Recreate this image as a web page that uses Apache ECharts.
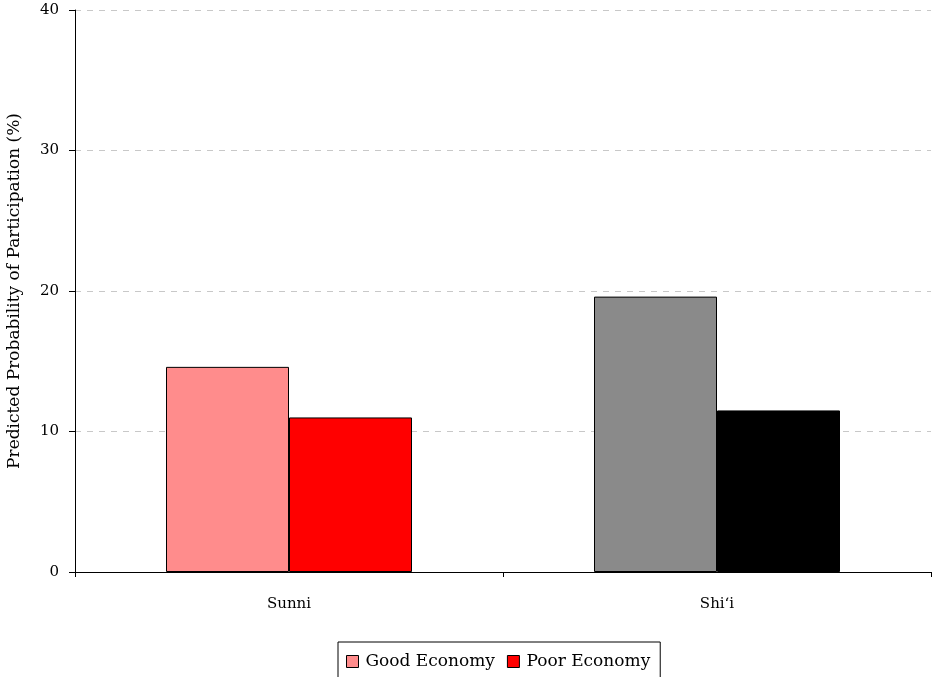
<!DOCTYPE html>
<html><head><meta charset="utf-8">
<script src="https://cdn.jsdelivr.net/npm/echarts@6/dist/echarts.min.js"></script>
<style>html,body{margin:0;padding:0;background:#fff}#c{width:932px;height:677px}</style>
</head><body><div id="c"></div>
<script>
const categories = ['Sunni', 'Shi\u2018i'];
const goodEconomy = [14.6, 19.6];
const poorEconomy = [11.0, 11.5];
const yTicks = [0, 10, 20, 30, 40];

const goodColors = ['#ff8c8c', '#8a8a8a'];
const poorColors = ['#ff0000', '#000000'];
const font = '"DejaVu Serif", "Liberation Serif", serif';

const chart = echarts.init(document.getElementById('c'));
chart.setOption({
  animation: false,
  textStyle: { fontFamily: font },
  grid: { left: 75, right: 1, top: 10, bottom: 105, outerBoundsMode: 'none', containLabel: false },
  legend: {
    data: [
      { name: 'Good Economy', itemStyle: { color: goodColors[0], borderColor: '#000', borderWidth: 1 } },
      { name: 'Poor Economy', itemStyle: { color: poorColors[0], borderColor: '#000', borderWidth: 1 } }
    ],
    left: 338, top: 642,
    icon: 'rect', itemWidth: 12, itemHeight: 12, itemGap: 12,
    borderColor: '#000', borderWidth: 1, padding: [11, 10, 20, 8],
    textStyle: { fontFamily: font, fontSize: 17, color: '#000', padding: [0, 0, 0, 2] }
  },
  xAxis: {
    type: 'category', data: categories,
    axisLine: { lineStyle: { color: '#000', width: 1 } },
    axisTick: { show: true, length: 5, lineStyle: { color: '#000' } },
    axisLabel: { color: '#000', fontSize: 15, margin: 25, fontFamily: font }
  },
  yAxis: {
    type: 'value', min: yTicks[0], max: yTicks[yTicks.length - 1], interval: 10,
    name: 'Predicted Probability of Participation (%)',
    nameLocation: 'middle', nameGap: 52, nameRotate: 90,
    nameTextStyle: { color: '#000', fontSize: 17, fontFamily: font },
    axisLine: { show: true, lineStyle: { color: '#000' } },
    axisTick: { show: true, length: 6, lineStyle: { color: '#000' } },
    axisLabel: { color: '#000', fontSize: 15, margin: 16, fontFamily: font },
    splitLine: { lineStyle: { color: '#c8c8c8', type: [6, 6] } }
  },
  series: [
    {
      name: 'Good Economy', type: 'bar', barWidth: 123, barGap: '0%',
      color: goodColors[0],
      data: goodEconomy.map((v, i) => ({ value: v, itemStyle: { color: goodColors[i] } })),
      itemStyle: { borderColor: '#000', borderWidth: 1 }
    },
    {
      name: 'Poor Economy', type: 'bar', barWidth: 123, barGap: '0%',
      color: poorColors[0],
      data: poorEconomy.map((v, i) => ({ value: v, itemStyle: { color: poorColors[i] } })),
      itemStyle: { borderColor: '#000', borderWidth: 1 }
    }
  ]
});
</script></body></html>
